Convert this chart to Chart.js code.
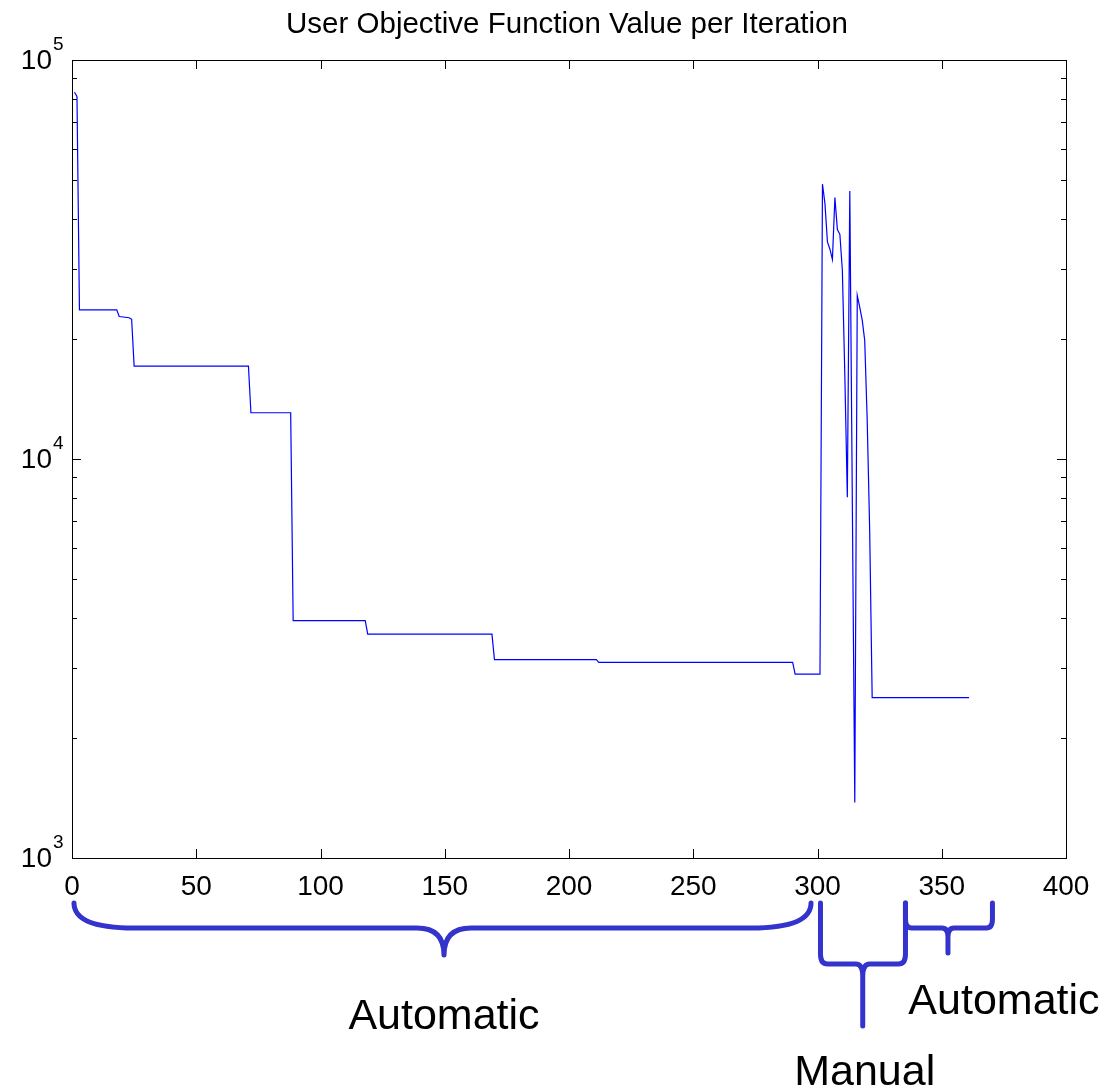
<!DOCTYPE html>
<html>
<head>
<meta charset="utf-8">
<title>User Objective Function Value per Iteration</title>
<script src="https://cdn.jsdelivr.net/npm/chart.js@4/dist/chart.umd.min.js"></script>
<style>
  html, body { margin: 0; padding: 0; background: #ffffff; }
  canvas { display: block; }
</style>
</head>
<body>
<canvas id="chart" width="1115" height="1089"></canvas>
<script>
// Iteration numbers where the objective value changes (with the value held between them)
const iterations = [
  1, 2, 3, 18, 19, 23, 24, 25, 71, 72, 88, 89, 118, 119, 169, 170, 211, 212, 290, 291,
  301, 302, 303, 304, 305, 306, 307, 308, 309, 310, 311, 312, 313, 314, 315, 316, 317,
  318, 319, 320, 321, 322, 361
];
const objectiveValues = [
  83000, 81000, 23650, 23650, 22750, 22600, 22400, 17100, 17100, 13060, 13060, 3936,
  3936, 3639, 3639, 3141, 3141, 3093, 3093, 2891,
  2891, 48850, 43650, 34990, 33560, 31620, 45200, 37570, 36570, 29720, 16200, 8020,
  46970, 8000, 1377, 25700, 23990, 22290, 19820, 12500, 6620, 2524, 2524
];

// Axis ticks
const xTicks = [0, 50, 100, 150, 200, 250, 300, 350, 400];
const yDecades = [3, 4, 5];

// Phase annotations below the axis: iteration span, tip position and label
const phaseNames = ['Automatic', 'Manual', 'Automatic'];
const phaseStart = [0.8, 301.2, 335.4];
const phaseEnd = [297.4, 335.4, 370.4];
const phaseTip = [149.7, 318.2, 352.5];

const points = iterations.map((it, i) => ({ x: it, y: objectiveValues[i] }));

const FONT = '"Liberation Sans", Arial, Helvetica, sans-serif';
const BRACE_COLOR = '#3434cc';

function drawBrace(ctx, b) {
  ctx.beginPath();
  ctx.moveTo(b.x0, b.yTop);
  ctx.lineTo(b.x0, b.yBar - b.ry);
  ctx.quadraticCurveTo(b.x0, b.yBar, b.x0 + b.rx, b.yBar);
  ctx.lineTo(b.xt - b.tx, b.yBar);
  ctx.quadraticCurveTo(b.xt, b.yBar, b.xt, b.yBar + b.ty);
  ctx.lineTo(b.xt, b.yTip);
  ctx.moveTo(b.xt, b.yBar + b.ty);
  ctx.quadraticCurveTo(b.xt, b.yBar, b.xt + b.tx, b.yBar);
  ctx.lineTo(b.x1 - b.rx, b.yBar);
  ctx.quadraticCurveTo(b.x1, b.yBar, b.x1, b.yBar - b.ry);
  ctx.lineTo(b.x1, b.yTop);
  ctx.stroke();
}

const axesPlugin = {
  id: 'matlabAxes',
  afterDraw(chart) {
    const ctx = chart.ctx;
    const area = chart.chartArea;
    const xs = chart.scales.x;
    const ys = chart.scales.y;
    const L = area.left, R = area.right, T = area.top, B = area.bottom;

    ctx.save();
    // frame
    ctx.strokeStyle = '#000000';
    ctx.lineWidth = 1;
    ctx.strokeRect(L + 0.5, T + 0.5, R - L, B - T);

    // x ticks (bottom and top, inward)
    ctx.beginPath();
    xTicks.forEach(v => {
      const px = Math.round(xs.getPixelForValue(v)) + 0.5;
      ctx.moveTo(px, B); ctx.lineTo(px, B - 9);
      ctx.moveTo(px, T); ctx.lineTo(px, T + 9);
    });
    // y ticks: decades and minor ticks, both sides
    yDecades.forEach((d, i) => {
      const py = Math.round(ys.getPixelForValue(Math.pow(10, d))) + 0.5;
      ctx.moveTo(L, py); ctx.lineTo(L + 9, py);
      ctx.moveTo(R, py); ctx.lineTo(R - 9, py);
      if (i < yDecades.length - 1) {
        for (let k = 2; k <= 9; k++) {
          const pm = Math.round(ys.getPixelForValue(k * Math.pow(10, d))) + 0.5;
          ctx.moveTo(L, pm); ctx.lineTo(L + 5, pm);
          ctx.moveTo(R, pm); ctx.lineTo(R - 5, pm);
        }
      }
    });
    ctx.stroke();

    // x tick labels
    ctx.fillStyle = '#000000';
    ctx.font = '28px ' + FONT;
    ctx.textAlign = 'center';
    ctx.textBaseline = 'alphabetic';
    xTicks.forEach(v => {
      ctx.fillText(String(v), xs.getPixelForValue(v), B + 37);
    });

    // y tick labels: 10 with superscript exponent
    yDecades.forEach(d => {
      const py = ys.getPixelForValue(Math.pow(10, d));
      ctx.font = '28px ' + FONT;
      ctx.textAlign = 'right';
      ctx.fillText('10', L - 20, py + 9);
      ctx.font = '19px ' + FONT;
      ctx.textAlign = 'left';
      ctx.fillText(String(d), L - 19, py - 10);
    });

    // title
    ctx.font = '29.5px ' + FONT;
    ctx.textAlign = 'center';
    ctx.fillText('User Objective Function Value per Iteration', (L + R) / 2 - 2, T - 27);

    // phase braces
    ctx.strokeStyle = BRACE_COLOR;
    ctx.lineWidth = 5;
    ctx.lineCap = 'round';
    ctx.lineJoin = 'round';
    const braceStyle = [
      { yTop: B + 45, yBar: B + 70, rx: 60, ry: 25, tx: 27, ty: 27, yTip: B + 95 },
      { yTop: B + 45, yBar: B + 106, rx: 7, ry: 10, tx: 7, ty: 12, yTip: B + 168 },
      { yTop: B + 45, yBar: B + 70, rx: 6, ry: 9, tx: 6, ty: 9, yTip: B + 95 }
    ];
    const labelPos = [
      { dx: 0, y: B + 171 },
      { dx: 2, y: B + 227 },
      { dx: 56, y: B + 156 }
    ];
    phaseNames.forEach((name, i) => {
      const s = braceStyle[i];
      drawBrace(ctx, Object.assign({
        x0: xs.getPixelForValue(phaseStart[i]),
        x1: xs.getPixelForValue(phaseEnd[i]),
        xt: xs.getPixelForValue(phaseTip[i])
      }, s));
      ctx.font = '43px ' + FONT;
      ctx.textAlign = 'center';
      ctx.fillStyle = '#000000';
      ctx.fillText(name, xs.getPixelForValue(phaseTip[i]) + labelPos[i].dx, labelPos[i].y);
    });
    ctx.restore();
  }
};

new Chart(document.getElementById('chart'), {
  type: 'line',
  data: {
    datasets: [{
      data: points,
      borderColor: '#0000ff',
      borderWidth: 1.2,
      pointRadius: 0,
      tension: 0,
      fill: false
    }]
  },
  options: {
    responsive: false,
    animation: false,
    layout: { padding: { left: 72, right: 49, top: 60, bottom: 231 } },
    plugins: { legend: { display: false }, tooltip: { enabled: false }, title: { display: false } },
    scales: {
      x: { type: 'linear', min: 0, max: 400, display: false },
      y: { type: 'logarithmic', min: 1000, max: 100000, display: false }
    }
  },
  plugins: [axesPlugin]
});
</script>
</body>
</html>
